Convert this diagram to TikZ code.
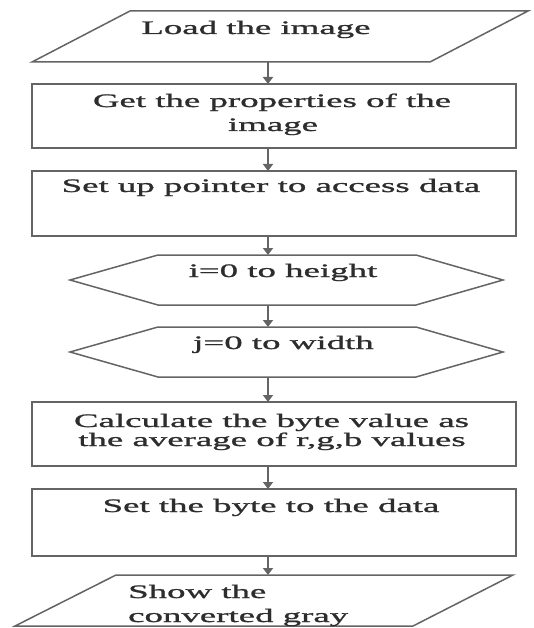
\documentclass[tikz,border=0pt]{standalone}
\usepackage{fontspec}
\setmainfont{Liberation Serif}[FakeStretch=1.94,FakeBold=1.2]
\usetikzlibrary{arrows.meta,calc}
\definecolor{lineg}{RGB}{100,100,100}
\definecolor{textg}{RGB}{45,45,45}
\begin{document}
\begin{tikzpicture}[x=1pt,y=-1pt,
  shapeline/.style={draw=lineg, line width=1.5pt, line join=miter},
  frame/.style={inner sep=0pt, outer sep=0pt, minimum width=#1},
  boxst/.style={draw=lineg, line width=1.5pt, inner sep=0pt, outer sep=0pt, minimum width=484pt},
  lbl/.style={inner sep=0pt, anchor=base, text=textg, font=\fontsize{19}{19}\selectfont},
  arr/.style={draw=lineg, line width=1.5pt, -{Triangle[length=7pt,width=10pt]}}
]
\useasboundingbox (0,0) rectangle (534,628);
\fill[white] (0,0) rectangle (534,628);
\coordinate (ax) at (268,0);

% shapes
\node[frame=496pt, minimum height=51pt] (p1) at (280,36.5) {};
\draw[shapeline] ($(p1.north west)+(98,0)$) -- (p1.north east) -- ($(p1.south east)-(98,0)$) -- (p1.south west) -- cycle;

\node[boxst, minimum height=64pt] (b2) at (274,116) {};
\node[boxst, minimum height=65pt] (b3) at (274,203.5) {};

\node[frame=433pt, minimum height=50pt] (h1) at (286.5,280) {};
\draw[shapeline] (h1.west) -- ($(h1.north west)+(88,0)$) -- ($(h1.north east)-(87,0)$) -- (h1.east) -- ($(h1.south east)-(87,0)$) -- ($(h1.south west)+(88,0)$) -- cycle;

\node[frame=433pt, minimum height=50pt] (h2) at (286.5,352) {};
\draw[shapeline] (h2.west) -- ($(h2.north west)+(88,0)$) -- ($(h2.north east)-(87,0)$) -- (h2.east) -- ($(h2.south east)-(87,0)$) -- ($(h2.south west)+(88,0)$) -- cycle;

\node[boxst, minimum height=64pt] (b4) at (274,434) {};
\node[boxst, minimum height=67pt] (b5) at (274,522.5) {};

\node[frame=498pt, minimum height=51pt] (p2) at (264,600.5) {};
\draw[shapeline] ($(p2.north west)+(101,0)$) -- (p2.north east) -- ($(p2.south east)-(100,0)$) -- (p2.south west) -- cycle;

% texts
\node[lbl] (t1) at (256,34) {Load the image};
\node[lbl] (t2) at (272,107) {Get the properties of the};
\node[lbl] (t2b) at (273,131) {image};
\node[lbl] (t3) at (271,192) {Set up pointer to access data};
\node[lbl] (t4) at (283,277) {i=0 to height};
\node[lbl] (t5) at (283.5,349) {j=0 to width};
\node[lbl] (t6) at (271.5,427) {Calculate the byte value as};
\node[lbl] (t6b) at (272,446) {the average of r,g,b values};
\node[lbl] (t7) at (271,512) {Set the byte to the data};
\node[lbl, anchor=base west] (t8) at (128,598) {Show the};
\node[lbl, anchor=base west] (t8b) at (128,622) {converted gray};

% connectors
\draw[arr] (p1.south -| ax) -- (b2.north -| ax);
\draw[arr] (b2.south -| ax) -- (b3.north -| ax);
\draw[arr] (b3.south -| ax) -- (h1.north -| ax);
\draw[arr] (h1.south -| ax) -- (h2.north -| ax);
\draw[arr] (h2.south -| ax) -- (b4.north -| ax);
\draw[arr] (b4.south -| ax) -- (b5.north -| ax);
\draw[arr] (b5.south -| ax) -- (p2.north -| ax);
\end{tikzpicture}
\end{document}
